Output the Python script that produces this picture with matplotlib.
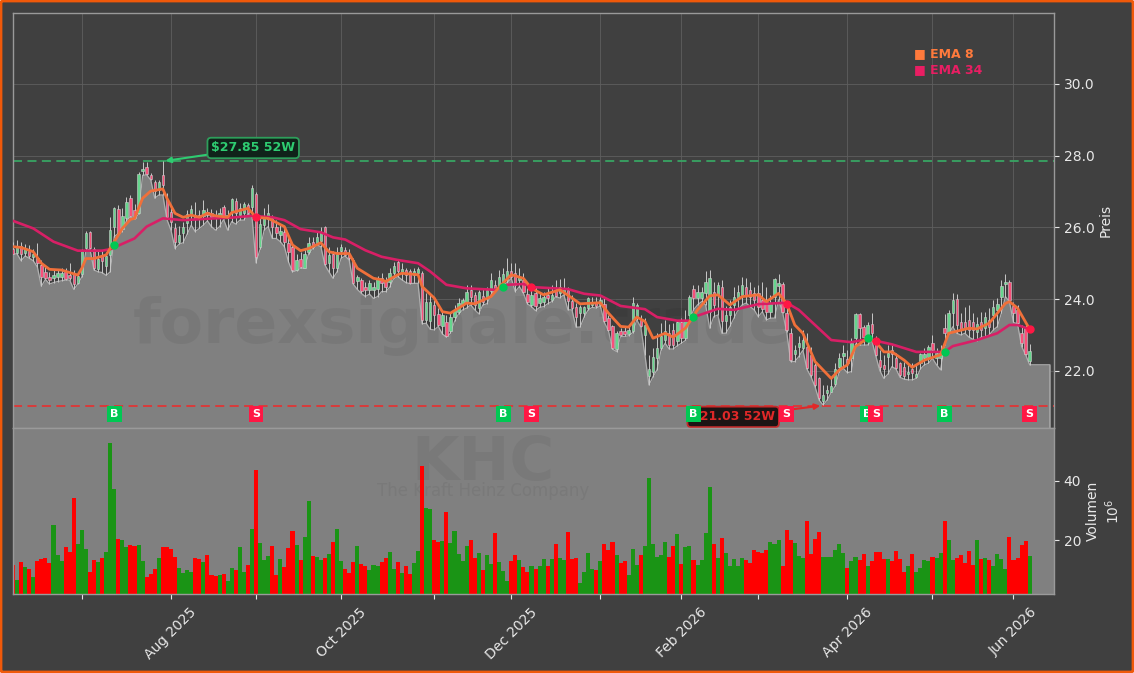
import matplotlib
matplotlib.use('Agg')
import matplotlib.pyplot as plt
from matplotlib.patches import FancyBboxPatch

# daily bars
opens = [25.41,25.29,25.48,25.29,25.35,25.16,25.14,24.95,24.76,24.62,24.58,24.62,24.62,24.76,24.67,24.72,24.46,24.70,25.43,25.86,
         25.41,24.84,25.20,24.92,25.23,26.02,26.51,25.94,26.25,26.81,26.48,26.39,27.58,27.67,27.46,27.25,27.04,27.47,26.78,26.44,
         25.97,25.58,25.83,26.11,26.37,26.34,26.34,26.31,26.44,26.39,26.31,26.25,26.56,26.28,26.44,26.73,26.34,26.41,26.62,26.57,
         26.92,25.46,26.06,26.22,26.25,26.02,25.79,25.88,25.55,25.46,24.81,25.11,24.88,25.32,25.60,25.55,25.63,26.02,25.00,25.26,
         24.88,25.35,25.37,25.27,25.09,24.51,24.53,24.35,24.25,24.25,24.27,24.58,24.54,24.49,24.72,25.03,24.72,24.80,24.77,24.68,
         24.72,24.72,23.42,23.38,23.84,23.59,23.24,23.35,23.12,23.50,23.63,23.84,23.93,24.26,24.12,23.75,24.09,24.03,24.24,24.40,
         24.33,24.40,24.54,24.77,24.72,24.54,24.54,24.15,23.84,24.17,23.89,23.93,24.12,23.98,24.26,24.17,24.17,24.26,23.96,23.77,
         23.61,23.61,23.75,23.84,23.93,23.84,23.87,23.47,23.24,22.61,23.10,23.10,23.03,23.10,23.47,23.42,23.00,21.86,21.98,22.35,
         22.63,22.86,23.05,23.14,22.82,23.35,22.91,23.56,24.28,24.03,24.03,24.17,23.65,24.21,24.12,24.33,23.38,23.56,23.84,24.03,
         24.12,24.35,24.26,24.17,24.17,23.98,23.93,23.65,24.07,24.37,24.41,23.61,23.07,22.47,22.66,22.63,22.68,22.45,22.17,21.79,
         21.15,21.38,21.42,21.64,22.12,22.42,22.32,22.35,22.91,23.59,23.22,22.94,23.31,22.86,22.31,22.17,22.40,22.58,22.35,22.21,
         22.10,21.91,22.05,21.82,22.23,22.35,22.38,22.79,22.35,22.35,23.19,23.05,23.62,24.00,23.37,23.37,23.42,23.37,23.09,23.37,
         23.19,23.42,23.56,23.70,24.07,24.42,24.47,23.81,23.70,23.05,23.19,22.28]
closes = [25.27,25.44,25.26,25.41,25.20,25.26,25.01,24.61,24.58,24.53,24.67,24.72,24.72,24.56,24.60,24.42,24.64,25.35,25.85,25.43,
          24.86,25.11,25.07,25.20,25.92,26.53,25.85,26.31,26.71,26.31,26.25,27.48,27.63,27.48,27.35,27.02,27.25,27.18,26.28,26.16,
          25.58,25.80,26.02,26.37,26.50,26.22,26.25,26.48,26.34,26.28,26.25,26.41,26.28,26.34,26.78,26.39,26.53,26.65,26.39,27.09,
          25.18,26.09,26.25,26.41,26.02,25.83,25.90,25.60,25.32,24.81,25.09,24.90,25.26,25.57,25.46,25.72,25.88,24.98,25.23,24.88,
          25.26,25.44,25.23,25.14,24.46,24.62,24.23,24.25,24.44,24.35,24.58,24.44,24.33,24.72,24.91,24.77,24.83,24.68,24.44,24.77,
          24.83,23.42,23.93,23.93,23.56,23.28,23.56,22.98,23.50,23.70,23.90,23.98,24.19,24.05,23.84,24.21,23.93,24.26,24.52,24.30,
          24.63,24.70,24.77,24.63,24.40,24.63,24.19,23.93,24.12,23.81,24.03,24.07,24.03,24.12,24.09,24.33,24.30,23.96,23.75,23.50,
          23.77,23.77,24.03,23.93,23.81,23.98,23.38,23.14,22.63,23.05,23.00,23.03,23.14,23.90,23.84,23.24,23.28,22.05,22.40,22.63,
          22.96,23.10,22.73,22.73,23.35,22.91,23.42,24.07,24.03,24.21,24.21,24.49,24.58,23.84,24.40,23.38,23.56,23.79,24.07,24.21,
          24.40,24.12,24.07,23.98,23.79,23.72,23.65,23.88,24.55,24.46,23.65,23.14,22.31,22.58,22.77,22.86,22.07,21.89,21.61,21.24,
          21.33,21.47,21.58,22.05,22.35,22.49,22.23,22.77,23.59,23.19,22.94,23.28,23.07,22.45,22.10,22.05,22.49,22.47,22.07,21.89,
          21.86,21.98,21.93,21.91,22.47,22.47,22.66,22.58,22.51,22.54,23.07,23.62,23.98,23.28,23.14,23.19,23.14,23.14,23.31,23.14,
          23.51,23.23,23.79,23.87,24.37,24.49,23.98,23.62,23.33,22.77,22.47,22.56]
highs = [25.60,25.65,25.60,25.53,25.51,25.41,25.57,25.09,24.90,24.76,24.83,24.81,24.86,24.86,25.00,24.81,24.76,25.41,25.91,25.91,
         25.46,25.37,25.37,25.32,26.28,26.57,26.62,26.53,26.85,26.90,26.65,27.55,27.81,27.81,27.52,27.32,27.32,27.85,26.95,26.62,
         26.11,26.04,26.16,26.48,26.62,26.71,26.48,26.76,26.53,26.50,26.48,26.53,26.62,26.48,26.81,26.81,26.67,26.71,26.67,27.18,
         26.99,26.34,26.53,26.65,26.34,26.20,26.06,25.97,25.83,25.55,25.27,25.32,25.41,25.74,25.74,25.88,26.00,26.04,25.44,25.35,
         25.46,25.53,25.46,25.41,25.14,24.67,24.58,24.49,24.53,24.49,24.64,24.72,24.63,24.86,25.03,25.11,25.00,24.86,24.83,24.86,
         24.89,24.77,24.17,24.15,23.98,23.75,23.70,23.56,23.61,23.84,24.03,24.03,24.40,24.40,24.21,24.26,24.30,24.35,24.74,24.54,
         24.81,24.86,25.14,25.00,25.02,24.86,24.72,24.30,24.30,24.35,24.17,24.21,24.33,24.40,24.54,24.56,24.58,24.35,24.12,23.89,
         23.84,23.81,24.07,24.07,24.07,24.07,24.03,23.56,23.28,23.10,23.19,23.24,23.28,24.07,23.90,23.56,23.47,22.45,22.63,23.05,
         23.33,23.42,23.31,23.33,23.42,23.47,23.70,24.12,24.40,24.40,24.35,24.77,24.80,24.49,24.49,24.54,23.81,23.98,24.35,24.40,
         24.61,24.58,24.49,24.35,24.40,24.49,24.35,24.12,24.58,24.70,24.49,23.88,23.19,22.72,22.97,23.14,23.05,22.68,22.21,21.84,
         21.61,21.61,21.84,22.21,22.49,22.72,22.58,22.91,23.62,23.62,23.28,23.37,23.61,22.96,22.58,22.45,22.72,22.72,22.49,22.26,
         22.26,22.17,22.21,22.17,22.49,22.63,22.72,23.00,22.63,22.72,23.59,23.70,24.16,24.14,23.61,23.79,23.84,23.61,23.51,23.65,
         23.65,23.75,23.98,24.02,24.53,24.70,24.52,23.93,23.84,23.28,23.28,22.75]
lows = [25.26,25.26,25.07,25.20,25.14,25.07,24.90,24.36,24.55,24.42,24.46,24.49,24.51,24.53,24.53,24.27,24.42,24.62,25.35,25.39,
        24.81,24.76,24.74,24.66,24.76,25.74,25.83,25.88,26.18,26.30,26.22,26.37,27.45,27.46,27.32,26.81,26.90,26.90,26.22,25.92,
        25.41,25.53,25.57,25.81,26.06,25.88,25.97,26.06,26.18,26.02,25.92,26.02,26.22,25.92,26.16,26.09,26.20,26.20,26.37,26.30,
        25.01,25.39,25.92,26.02,25.69,25.69,25.60,25.46,25.04,24.76,24.79,24.86,24.86,25.27,25.41,25.51,25.46,24.95,24.76,24.58,
        24.76,25.14,25.20,25.09,24.42,24.27,24.16,24.07,24.14,24.02,24.07,24.21,24.21,24.33,24.58,24.63,24.54,24.46,24.43,24.44,
        24.44,23.31,23.33,23.16,23.14,23.24,23.03,22.94,23.05,23.38,23.59,23.70,23.75,23.84,23.70,23.59,23.84,23.87,24.12,24.28,
        24.30,24.40,24.46,24.58,24.21,24.35,24.17,23.87,23.79,23.68,23.77,23.79,23.87,23.93,24.07,24.03,24.12,23.70,23.70,23.22,
        23.22,23.50,23.70,23.77,23.75,23.81,23.35,23.12,22.61,22.54,22.96,22.96,22.98,23.07,23.42,23.22,22.45,21.61,21.84,22.03,
        22.59,22.77,22.61,22.61,22.70,22.77,22.85,23.42,23.70,23.84,23.93,23.84,23.19,23.51,23.56,23.05,23.05,23.24,23.47,23.70,
        23.84,23.89,23.79,23.70,23.51,23.65,23.42,23.47,23.47,23.98,23.62,23.09,22.26,22.26,22.40,22.58,22.05,21.84,21.56,21.19,
        21.05,21.19,21.40,21.58,21.98,22.07,21.95,21.98,22.75,22.72,22.72,22.72,22.86,22.42,22.01,21.79,21.91,22.12,22.05,21.82,
        21.77,21.75,21.75,21.79,22.05,22.17,22.21,22.35,22.17,22.03,22.72,23.03,23.23,23.05,23.00,23.05,22.94,22.88,22.84,22.94,
        22.94,23.00,23.14,23.23,23.61,24.07,23.93,23.35,23.31,22.68,22.45,22.17]
volumes = [11.6,6.5,12.6,10.9,10.2,7.6,12.9,13.6,14.0,12.3,25.0,15.0,13.0,17.6,16.0,34.0,18.7,23.4,17.0,9.2,
           13.3,12.6,14.0,16.0,52.6,37.0,20.3,20.0,17.7,18.3,18.0,18.3,13.0,7.6,8.6,10.2,14.0,17.6,17.6,17.0,
           14.3,10.6,8.9,9.9,9.2,14.0,13.6,12.6,15.0,8.2,8.0,8.2,8.6,6.2,10.6,9.9,17.6,9.2,11.6,23.7,
           43.5,19.0,13.3,14.6,18.0,8.2,13.6,10.9,17.3,23.0,18.3,13.3,21.0,33.0,14.6,14.3,13.3,14.0,15.3,19.3,
           23.7,13.0,10.2,8.9,12.6,18.0,12.0,11.3,9.9,11.6,11.3,12.6,14.0,16.0,10.2,12.6,8.9,11.3,8.6,12.3,
           16.3,44.8,30.7,30.4,20.0,19.3,19.7,29.4,19.0,23.0,15.3,13.0,18.0,20.0,14.0,15.6,9.9,15.0,12.0,22.3,
           12.6,9.6,6.2,13.0,15.0,13.3,10.9,9.2,11.3,10.2,11.3,13.6,11.3,13.6,18.7,14.0,13.3,22.7,13.6,14.0,
           5.6,9.2,15.6,10.2,9.9,13.0,18.7,16.6,19.3,15.0,12.3,13.0,8.2,17.0,11.6,15.0,18.0,40.8,18.7,14.3,
           15.0,19.3,14.3,18.0,22.0,12.0,17.6,18.0,13.3,11.6,13.3,22.3,37.8,18.7,14.0,20.7,15.6,11.3,13.6,11.3,
           14.0,13.3,12.3,16.6,16.0,15.7,16.6,19.3,18.7,20.0,11.3,23.4,20.0,19.0,14.6,14.0,26.4,15.3,20.3,22.7,
           14.3,14.3,14.3,16.6,18.7,15.6,10.6,13.0,14.3,13.3,15.3,11.3,13.0,16.0,16.0,13.6,13.6,13.0,16.3,13.6,
           9.2,11.3,15.3,9.2,10.6,13.3,13.0,14.3,14.0,15.6,26.4,20.0,13.3,14.0,15.0,12.3,16.3,11.6,20.0,13.6,
           14.0,13.3,11.3,15.3,13.6,10.2,21.0,13.3,14.0,18.3,19.7,14.6]

ema8_idx = [0,2,5,7,9,12,16,17,18,20,23,25,27,29,30,32,34,37,38,40,42,44,46,48,50,53,54,58,60,63,67,69,71,73,76,78,80,83,85,89,
            91,92,95,96,100,101,104,106,108,112,114,118,120,123,126,128,131,135,138,140,145,147,150,152,154,156,158,161,163,166,169,172,174,177,180,184,
            186,189,191,193,195,198,202,204,206,208,211,213,215,217,220,222,225,229,231,236,238,241,245,246,248,251]
ema8_val = [25.46,25.44,25.32,25.00,24.83,24.81,24.67,24.86,25.13,25.13,25.23,25.60,25.97,26.22,26.25,26.81,27.01,27.07,26.81,26.39,26.28,26.34,26.28,26.39,26.32,26.28,26.41,26.53,26.28,26.25,26.02,25.51,25.35,25.41,25.57,25.32,25.27,25.27,24.86,24.58,
            24.54,24.49,24.68,24.72,24.68,24.35,24.03,23.65,23.61,23.89,23.87,24.07,24.33,24.68,24.58,24.30,24.12,24.26,24.03,23.87,23.90,23.61,23.24,23.22,23.50,23.38,22.91,23.05,22.94,23.19,23.70,24.09,24.12,23.84,24.07,24.12,
            23.93,24.16,23.88,23.28,23.05,22.26,21.79,22.03,22.17,22.68,22.91,22.81,22.53,22.53,22.30,22.10,22.30,22.45,23.05,23.19,23.17,23.33,23.88,23.93,23.75,23.16]
ema34_idx = [0,5,10,16,22,24,30,33,37,42,50,54,59,64,67,71,76,79,82,87,91,95,100,103,107,112,119,122,126,129,137,141,145,150,156,159,164,167,168,174,178,184,
             191,194,198,202,207,211,213,217,223,230,232,238,243,246,248,251]
ema34_val = [26.18,25.97,25.60,25.35,25.35,25.39,25.69,26.02,26.25,26.20,26.25,26.27,26.32,26.28,26.20,25.95,25.86,25.72,25.66,25.36,25.18,25.09,25.00,24.77,24.40,24.30,24.26,24.40,24.42,24.33,24.28,24.15,24.10,23.81,23.72,23.50,23.40,23.40,23.50,23.73,23.70,23.86,
             23.90,23.70,23.28,22.86,22.80,22.89,22.84,22.74,22.53,22.53,22.69,22.86,23.05,23.28,23.28,23.16]

signal_idx = [25,60,121,128,168,191,211,213,230,251]
signal_type = ['B','S','B','S','B','S','B','S','B','S']
signal_val = [25.50,26.29,24.35,24.35,23.50,23.86,22.91,22.83,22.54,23.16]

high_52w = 27.85
low_52w = 21.03

tick_pos = [17,39,60,81,104,123,145,165,184,206,227,247]
tick_labels = ['','Aug 2025','','Oct 2025','','Dec 2025','','Feb 2026','','Apr 2026','','Jun 2026']

BG = '#404040'
PANEL = '#808080'
ORANGE = '#f0703a'
PINK = '#d81f66'
GREEN = '#00c853'
RED = '#ff1744'
TXT = '#e8e8e8'

W, H = 1134, 673
fig = plt.figure(figsize=(W/100, H/100), dpi=100, facecolor='white')
fig.add_artist(FancyBboxPatch((1/W, 1/H), (W-2)/W, (H-2)/H, boxstyle='round,pad=0,rounding_size=0.002',
                              transform=fig.transFigure, fc=BG, ec='#f0590a', lw=2, zorder=-1))

ax1 = fig.add_axes([13/W, (H-428)/H, 1041/W, 415/H], facecolor=BG)
ax2 = fig.add_axes([13/W, (H-594)/H, 1041/W, 166/H], facecolor=PANEL)

xs = list(range(len(closes)))
x_end = 256

# price panel
ax1.set_xlim(0, 257)
ax1.set_ylim(20.41, 31.97)
ax1.grid(True, color='#5e5e5e', lw=0.6, zorder=0)
ax1.set_axisbelow(True)
area_x = xs + [x_end]
area_y = lows + [lows[-1]]
ax1.fill_between(area_x, area_y, 20.41, color=PANEL, lw=0, zorder=1)
ax1.plot(area_x + [x_end], area_y + [20.41], color='#b0b0b0', lw=0.9, zorder=1.5)

ax1.text(0.4315, 0.245, 'forexsignale.trade', transform=ax1.transAxes, ha='center', va='center',
         fontsize=45.5, fontweight='bold', color='black', alpha=0.055, zorder=2)

ax1.vlines(xs, lows, highs, color='#c8c8c8', lw=0.7, zorder=3)
for i in xs:
    up = closes[i] >= opens[i]
    ax1.bar(i, abs(closes[i]-opens[i]), bottom=min(opens[i], closes[i]), width=0.6,
            color='#66d68d' if up else '#f8507a', edgecolor='#d0d0d0', lw=0.4, zorder=4)

ax1.plot(ema34_idx, ema34_val, color=PINK, lw=1.9, zorder=5, solid_joinstyle='round')
ax1.plot(ema8_idx, ema8_val, color=ORANGE, lw=2.0, zorder=6, solid_joinstyle='round')

ax1.axhline(high_52w, color='#38a463', lw=1.3, ls=(0, (5, 3)), zorder=2.5)
ax1.axhline(low_52w, color='#e03535', lw=1.3, ls=(0, (5, 3)), zorder=2.5)

ax1.annotate('\\$27.85 52W', xy=(37.6, high_52w), xytext=(59.3, 28.21), ha='center', va='center',
             fontsize=9, fontweight='bold', color='#2ecc71', zorder=8,
             bbox=dict(boxstyle='round,pad=0.3', fc='#10231a', ec='#2e9e5b', lw=1.3),
             arrowprops=dict(arrowstyle='-|>', color='#2ecc71', lw=1.5, mutation_scale=8, shrinkA=0, shrinkB=0))
ax1.annotate('\\$21.03 52W', xy=(199.3, low_52w), xytext=(177.8, 20.72), ha='center', va='center',
             fontsize=9, fontweight='bold', color='#e02828', zorder=8,
             bbox=dict(boxstyle='round,pad=0.3', fc='#1c1414', ec='#c42a2a', lw=1.3),
             arrowprops=dict(arrowstyle='-|>', color='#e02828', lw=1.5, mutation_scale=8, shrinkA=0, shrinkB=0))

for i, kind, val in zip(signal_idx, signal_type, signal_val):
    col = GREEN if kind == 'B' else RED
    ax1.plot(i, val, 'o', color=col, ms=5, zorder=7)
    ax1.text(i, 20.80, kind, ha='center', va='center', fontsize=8, fontweight='bold', color='white', zorder=9,
             bbox=dict(boxstyle='square,pad=0.3', fc=col, ec='none'))

ax1.text(0.8655, 0.9025, '\u25a0 EMA 8', transform=ax1.transAxes, color='#ff7a3c', fontsize=9, fontweight='bold', va='center')
ax1.text(0.8655, 0.864, '\u25a0 EMA 34', transform=ax1.transAxes, color='#e91e63', fontsize=9, fontweight='bold', va='center')

ax1.set_xticks(tick_pos)
ax1.tick_params(axis='x', length=0, labelbottom=False)
ax1.yaxis.tick_right()
ax1.set_yticks([22, 24, 26, 28, 30])
ax1.set_yticklabels(['22.0', '24.0', '26.0', '28.0', '30.0'])
ax1.tick_params(axis='y', colors=TXT, labelsize=10)
ax1.set_ylabel('Preis', color=TXT, fontsize=10)
ax1.yaxis.set_label_position('right')
ax1.yaxis.set_label_coords(1.0428, 0.5)

# volume panel
ax2.set_xlim(0, 257)
ax2.set_ylim(1.85, 57.65)
ax2.text(0.4515, 0.785, 'KHC', transform=ax2.transAxes, ha='center', va='center',
         fontsize=44, fontweight='bold', color='black', alpha=0.05, zorder=1)
ax2.text(0.4515, 0.62, 'The Kraft Heinz Company', transform=ax2.transAxes, ha='center', va='center',
         fontsize=12, color='black', alpha=0.05, zorder=1)
vol_colors = ['#1a9415' if closes[i] >= opens[i] else '#ff0000' for i in xs]
ax2.bar(xs, volumes, width=1.0, bottom=0, color=vol_colors, lw=0, zorder=2)
ax2.set_xticks(tick_pos)
ax2.set_xticklabels(tick_labels, rotation=45, ha='center', color=TXT, fontsize=10)
ax2.tick_params(axis='x', colors=TXT, length=3.5, pad=4.5)
ax2.yaxis.tick_right()
ax2.set_yticks([20, 40])
ax2.tick_params(axis='y', colors=TXT, labelsize=10)
ax2.set_ylabel('Volumen\n$10^{6}$', color=TXT, fontsize=10)
ax2.yaxis.set_label_position('right')
ax2.yaxis.set_label_coords(1.0311, 0.5)

for ax in (ax1, ax2):
    for s in ax.spines.values():
        s.set_color('#9a9a9a')
        s.set_linewidth(1.0)

fig.savefig('out.png', dpi=100, facecolor='white')
